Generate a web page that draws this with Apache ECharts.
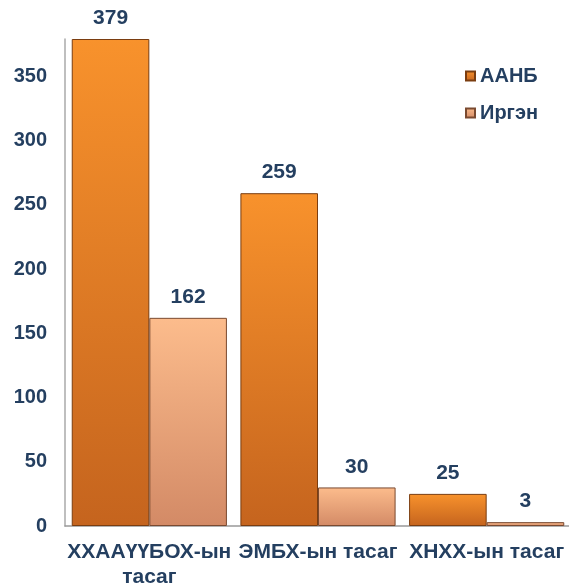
<!DOCTYPE html>
<html><head><meta charset="utf-8">
<script src="https://cdn.jsdelivr.net/npm/echarts@6/dist/echarts.min.js"></script>
<style>html,body{margin:0;padding:0;background:#fff}#c{width:569px;height:585px}</style>
</head><body><div id="c"></div>
<script>
const categories = ['ХХААҮҮБОХ-ын\nтасаг', 'ЭМБХ-ын тасаг', 'ХНХХ-ын тасаг'];
const seriesNames = ['ААНБ', 'Иргэн'];
const aanbValues = [379, 259, 25];
const irgenValues = [162, 30, 3];
const yTicks = [0, 50, 100, 150, 200, 250, 300, 350];

const navy = '#243f60';
const font = '"Liberation Sans", Arial, sans-serif';
function grad(top, bottom) {
  return new echarts.graphic.LinearGradient(0, 0, 0, 1, [
    {offset: 0, color: top}, {offset: 1, color: bottom}
  ]);
}
const chart = echarts.init(document.getElementById('c'));
chart.setOption({
  animation: false,
  grid: {left: 65, top: 39, width: 506, bottom: 59, containLabel: false, outerBoundsMode: 'none'},
  legend: {
    orient: 'vertical', left: 460, top: 61, itemGap: 17,
    itemWidth: 9, itemHeight: 9, icon: 'rect',
    textStyle: {fontFamily: font, fontWeight: 'bold', fontSize: 20, color: navy},
    data: seriesNames
  },
  xAxis: {
    type: 'category', data: categories,
    axisLine: {lineStyle: {color: '#999', width: 1.5}},
    axisTick: {show: false},
    axisLabel: {fontFamily: font, fontWeight: 'bold', fontSize: 21, color: navy, margin: 14, lineHeight: 25, interval: 0}
  },
  yAxis: {
    type: 'value', min: 0, max: 379, interval: 50,
    axisLine: {show: true, lineStyle: {color: '#aaa', width: 1.5}},
    axisTick: {show: false},
    splitLine: {show: false},
    axisLabel: {fontFamily: font, fontWeight: 'bold', fontSize: 20, color: navy, margin: 18, showMaxLabel: false,
      formatter: v => yTicks.includes(v) ? String(v) : ''}
  },
  series: [
    {
      name: seriesNames[0], type: 'bar', data: aanbValues,
      barCategoryGap: '8%', barGap: '0%',
      itemStyle: {color: grad('#f8922c', '#c5641e'), borderColor: '#7a3d10', borderWidth: 1},
      label: {show: true, position: 'top', distance: 10, fontFamily: font, fontWeight: 'bold', fontSize: 21, color: navy}
    },
    {
      name: seriesNames[1], type: 'bar', data: irgenValues,
      barCategoryGap: '8%', barGap: '0%',
      itemStyle: {color: grad('#fcbc8c', '#d38a66'), borderColor: '#7a4a30', borderWidth: 1},
      label: {show: true, position: 'top', distance: 10, fontFamily: font, fontWeight: 'bold', fontSize: 21, color: navy}
    }
  ]
});
</script></body></html>
